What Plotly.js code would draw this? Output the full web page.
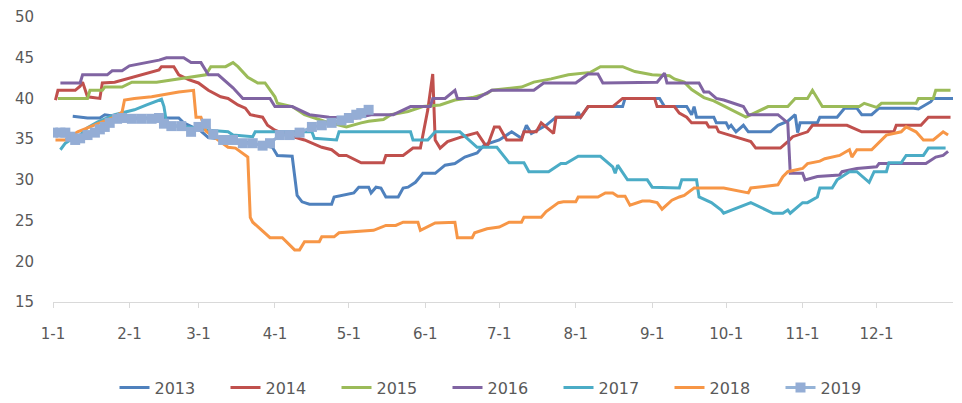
<!DOCTYPE html>
<html>
<head>
<meta charset="utf-8">
<script src="https://cdn.plot.ly/plotly-3.0.1.min.js"></script>
<style>
  html, body { margin: 0; padding: 0; background: #fff; }
  #chart { width: 962px; height: 403px; }
</style>
</head>
<body>
<div id="chart"></div>
<script>
// x = day of the year (0 = 1-1), y = value
const monthStarts = [0, 31, 59, 90, 120, 151, 181, 212, 243, 273, 304, 334]
const monthLabels = ['1-1', '2-1', '3-1', '4-1', '5-1', '6-1', '7-1', '8-1', '9-1', '10-1', '11-1', '12-1']
const yearNames = ['2013', '2014', '2015', '2016', '2017', '2018', '2019']

const y2013 = [[8,37.8],[14,37.6],[19,37.6],[21,38],[30,37.6],[51,37.6],[53,37],[60,36],[63,35.2],[75,34.8],[89,34],[91,33],[97,32.9],[99,28.1],[101,27.3],[104,27],[113,27],[114,27.9],[122,28.4],[124,29.1],[128,29.1],[129,28.4],[131,29.1],[133,29],[135,27.9],[140,27.9],[142,29],[144,29.1],[147,29.7],[150,30.8],[155,30.8],[159,31.8],[163,32],[167,32.8],[172,33.3],[175,34.3],[181,34.9],[186,35.9],[190,35.1],[192,36.7],[194,35.7],[200,36.7],[204,37.7],[212,37.7],[213,38.3],[214,37.7],[217,39],[231,39],[232,40],[246,40],[248,39],[257,39],[259,38],[260,39],[261,37.7],[268,37.7],[269,37],[273,37],[274,36.4],[275,36.7],[277,35.9],[280,36.7],[282,35.9],[291,35.9],[294,36.7],[298,37.2],[301,38],[302,35.8],[303,37],[310,37],[311,37.7],[318,37.7],[321,38.8],[326,38.8],[328,38],[332,38],[335,38.8],[349,38.8],[351,38.7],[356,39.6],[357,40],[365,40]]

const y2014 = [[1,39.8],[2,41],[9,41],[11,41.5],[12,42],[14,40.2],[19,40],[20,41.9],[25,42],[43,43.5],[44,43.9],[49,43.9],[51,42.9],[55,42.3],[59,41.9],[63,41],[68,40.2],[71,40],[75,39.2],[78,38.8],[80,38],[85,37.7],[87,36.7],[90,36.1],[95,35.5],[102,34.9],[109,34],[113,33.7],[116,33],[119,33],[125,32.1],[134,32.1],[135,33],[142,33],[146,33.9],[149,33.9],[152,38.6],[154,43],[155,34.9],[157,33.9],[160,34.7],[166,35.3],[172,35.8],[176,34],[179,36.5],[181,36.5],[184,34.9],[190,34.9],[191,35.9],[196,35.9],[198,37],[203,35.7],[204,37.7],[214,37.7],[217,39],[227,39],[231,40],[244,40],[245,39],[252,39],[254,38.2],[257,37.7],[259,37],[265,37],[266,36.5],[269,36.5],[270,35.9],[279,35.1],[283,34.7],[285,33.9],[295,33.9],[298,34.7],[300,35.3],[306,35.9],[308,36.7],[322,36.7],[326,36.1],[328,35.9],[341,35.9],[342,36.7],[352,36.7],[355,37.7],[364,37.7]]

const y2015 = [[2,40],[14,40],[15,41],[20,41],[21,41.4],[28,41.4],[32,42],[42,42],[62,42.9],[64,43.9],[70,43.9],[73,44.4],[75,43.9],[79,42.6],[83,41.9],[86,41.9],[90,40.2],[91,39.4],[97,39],[102,38],[110,37.2],[119,36.5],[125,37],[128,37.2],[134,37.4],[137,38],[144,38.4],[150,39],[157,39.2],[163,39.8],[170,40.1],[176,40.6],[178,41],[190,41.4],[195,42],[202,42.4],[209,42.9],[218,43.2],[222,43.9],[231,43.9],[236,43.3],[243,42.9],[250,42.8],[252,42.4],[256,42],[259,41.1],[264,40.1],[268,39.7],[281,37.7],[285,38.3],[290,39],[298,39],[301,40],[306,40],[308,41],[312,39],[327,39],[329,39.4],[334,38.9],[336,39.4],[350,39.4],[351,40],[357,40],[358,41],[364,41]]

const y2016 = [[3,41.9],[11,41.9],[12,42.9],[22,42.9],[24,43.4],[28,43.4],[31,44],[43,44.7],[46,45],[53,45],[56,44.4],[60,44.4],[63,42.9],[67,42.9],[73,41.3],[77,40],[88,40],[90,39],[97,39],[104,38],[112,37.7],[123,37.6],[129,38],[138,38],[140,38.3],[145,39],[153,39],[154,40],[159,40],[163,41],[164,40],[172,40],[178,41],[195,41],[199,41.9],[212,41.9],[217,43],[221,43],[223,41.9],[245,42],[248,43.1],[249,41.9],[262,41.9],[264,40.8],[266,40.8],[269,40],[272,39.8],[280,39],[282,38],[294,38],[298,37],[299,30.8],[304,30.8],[305,30],[310,30.4],[319,30.6],[320,31],[326,31.4],[334,31.6],[335,32],[354,32],[358,32.8],[361,33],[363,33.5]]

const y2017 = [[3,33.7],[5,34.5],[7,34.9],[11,35.5],[14,36.4],[18,37.1],[25,38],[33,38.6],[38,39.2],[44,39.9],[45,39],[46,37.1],[50,36.6],[58,36.4],[63,36.1],[71,35.9],[73,35.5],[81,35.3],[82,35.9],[105,35.9],[106,35.1],[115,34.9],[116,35.9],[145,35.9],[146,34.9],[152,34.9],[155,35.9],[165,35.9],[172,34],[180,34],[185,32.1],[191,32.1],[193,31],[201,31],[206,32],[208,32],[213,32.9],[222,32.9],[227,31.6],[228,30.8],[229,31.8],[233,30],[241,30],[243,29.1],[254,29],[255,30],[261,30],[262,27.9],[267,27.2],[271,26.3],[272,25.9],[283,27.2],[292,25.9],[296,25.9],[298,26.3],[299,25.9],[304,27.2],[306,27.2],[310,27.9],[311,29],[316,29],[318,30],[323,31],[326,31],[331,29.7],[333,31],[338,31],[339,32.1],[344,32.1],[346,33],[353,33],[355,33.9],[362,33.9]]

const y2018 = [[1,34.9],[5,34.9],[10,35.9],[24,37.6],[28,38.3],[29,39.8],[33,40],[40,40.2],[51,40.8],[57,41],[58,37.7],[60,37.7],[62,36],[66,35.1],[71,34],[74,33.9],[79,32.8],[80,25.4],[81,24.8],[88,22.9],[93,22.9],[98,21.4],[100,21.4],[102,22.4],[108,22.4],[109,23],[114,23],[116,23.5],[121,23.6],[127,23.8],[130,23.8],[135,24.4],[139,24.4],[142,24.8],[148,24.8],[149,23.8],[155,24.7],[163,24.8],[164,22.9],[170,22.9],[171,23.5],[176,24],[181,24.2],[185,24.8],[190,24.8],[191,25.4],[198,25.4],[200,26.1],[205,27.2],[207,27.3],[212,27.3],[213,27.9],[221,27.9],[224,28.4],[227,28.4],[229,28],[232,28],[234,26.9],[239,27.4],[242,27.4],[245,27.2],[247,26.4],[250,27.2],[251,27.5],[254,27.9],[256,28.1],[260,29],[272,29],[282,28.4],[283,29],[294,29.4],[296,30.4],[298,31],[304,31.4],[306,32],[311,32.3],[313,32.6],[319,33],[323,33.7],[324,32.8],[326,33.7],[332,33.7],[338,35.5],[344,35.9],[346,36.5],[350,35.9],[353,34.9],[357,34.9],[361,35.9],[363,35.5]]

const y2019 = [[0,35.8],[3,35.8],[5,35.8],[7,35.3],[9,34.9],[11,35.1],[14,35.5],[17,35.8],[19,36.2],[21,36.5],[23,37],[26,37.5],[28,37.6],[32,37.5],[36,37.5],[40,37.5],[43,37.6],[45,36.9],[48,36.6],[52,36.6],[56,35.9],[59,36.5],[62,36.9],[65,35.6],[69,34.9],[73,34.9],[77,34.5],[81,34.5],[85,34.2],[88,34.5],[92,35.5],[96,35.5],[100,35.8],[105,36.5],[109,36.7],[113,37],[117,37.3],[120,37.6],[123,38],[125,38.2],[128,38.6]]

const seriesValues = [y2013, y2014, y2015, y2016, y2017, y2018, y2019]
const seriesColors = ['#4F81BD', '#C0504D', '#9BBB59', '#8064A2', '#4BACC6', '#F79646', '#95B3D7']

const data = seriesValues.map((pts, i) => {
    let trace = {
        x: pts.map(p => p[0]),
        y: pts.map(p => p[1]),
        type: 'scatter',
        mode: 'lines',
        name: yearNames[i],
        line: { color: seriesColors[i], width: 3 }
    }
    if (yearNames[i] === '2019') {
        trace.mode = 'lines+markers'
        trace.marker = { symbol: 'square', size: 10, color: '#94ADD5' }
    }
    return trace
})

const tickFont = { family: 'Century Gothic, DejaVu Sans, sans-serif', size: 15, color: '#595959' }

const layout = {
    width: 962,
    height: 403,
    margin: { l: 53, r: 9, t: 17, b: 101, autoexpand: false },
    paper_bgcolor: '#ffffff',
    plot_bgcolor: '#ffffff',
    showlegend: true,
    font: tickFont,
    xaxis: {
        range: [0, 365],
        tickvals: monthStarts,
        ticktext: monthLabels,
        showgrid: false,
        zeroline: false,
        showline: true,
        linecolor: '#d9d9d9',
        linewidth: 1,
        ticks: 'outside',
        ticklen: 5,
        tickcolor: '#d9d9d9',
        ticklabelstandoff: 13,
        tickfont: tickFont
    },
    yaxis: {
        range: [15, 50],
        dtick: 5,
        tick0: 15,
        showgrid: false,
        zeroline: false,
        showline: false,
        ticks: '',
        ticklabelstandoff: 18,
        tickfont: tickFont
    },
    legend: {
        orientation: 'h',
        x: 0.5,
        xanchor: 'center',
        y: -0.30,
        yanchor: 'middle',
        entrywidth: 66,
        entrywidthmode: 'pixels',
        font: { family: tickFont.family, size: 16, color: '#595959' }
    }
}

Plotly.newPlot('chart', data, layout, { displayModeBar: false, staticPlot: true })
</script>
</body>
</html>
